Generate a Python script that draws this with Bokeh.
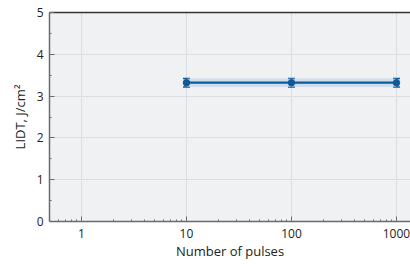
from bokeh.plotting import figure
from bokeh.models import ColumnDataSource, Whisker, Range1d, FixedTicker, LinearAxis
from bokeh.embed import file_html
from bokeh.resources import INLINE

pulses = [10, 100, 1000]
lidt = [3.32, 3.32, 3.32]
err = [0.1, 0.1, 0.1]
x_ticks = [1, 10, 100, 1000]
x_minor = [0.6, 0.7, 0.8, 0.9, 2, 3, 4, 5, 6, 7, 8, 9,
           20, 30, 40, 50, 60, 70, 80, 90, 200, 300, 400, 500, 600, 700, 800, 900]
y_ticks = [0, 1, 2, 3, 4, 5]
y_minor = [0.5, 1.5, 2.5, 3.5, 4.5]

src = ColumnDataSource(dict(
    x=pulses, y=lidt,
    lo=[v - e for v, e in zip(lidt, err)],
    hi=[v + e for v, e in zip(lidt, err)],
))

p = figure(width=410, height=264, x_axis_type="log", output_backend="svg",
           toolbar_location=None, x_range=Range1d(0.496, 1360), y_range=Range1d(0, 5),
           min_border_left=49, min_border_right=0, min_border_top=12, min_border_bottom=43)

p.background_fill_color = "#f0f1f3"
p.border_fill_color = "white"
p.outline_line_color = None

p.varea(x="x", y1="lo", y2="hi", source=src, fill_color="#b4cdea", fill_alpha=0.55)
p.line(x="x", y="y", source=src, line_color="#0e5a98", line_width=2.2)
w = Whisker(base="x", lower="lo", upper="hi", source=src, line_color="#0e5a98", line_width=1.5)
for h in (w.upper_head, w.lower_head):
    h.size = 7
    h.line_color = "#0e5a98"
    h.line_width = 1.5
p.add_layout(w)
p.scatter(x="x", y="y", source=src, size=6.5, fill_color="#0e5a98", line_color="#0e5a98")

p.xaxis.ticker = FixedTicker(ticks=x_ticks, minor_ticks=x_minor)
p.xaxis.major_label_overrides = {1: "1", 10: "10", 100: "100", 1000: "1000"}
p.yaxis.ticker = FixedTicker(ticks=y_ticks, minor_ticks=y_minor)
p.xgrid.ticker = FixedTicker(ticks=x_ticks)
p.ygrid.ticker = FixedTicker(ticks=y_ticks)

for ax in (p.xaxis[0], p.yaxis[0]):
    ax.axis_line_color = "#6b6b6b"
    ax.axis_line_width = 1.5
    ax.major_tick_line_color = "#6b6b6b"
    ax.minor_tick_line_color = "#6b6b6b"
    ax.major_tick_in = 5
    ax.major_tick_out = 0
    ax.minor_tick_in = 2
    ax.minor_tick_out = 0
    ax.major_label_text_font = "Open Sans"
    ax.major_label_text_font_size = "12px"
    ax.major_label_text_color = "#222222"
    ax.axis_label_text_font = "Open Sans"
    ax.axis_label_text_font_size = "13px"
    ax.axis_label_text_font_style = "normal"
    ax.axis_label_text_color = "#222222"

p.xaxis.axis_label = "Number of pulses"
p.yaxis.axis_label = "LIDT, J/cm²"
p.xaxis.major_label_standoff = 7
p.xaxis.axis_label_standoff = 1
p.yaxis.major_label_standoff = 6
p.yaxis.axis_label_standoff = 5

p.grid.grid_line_color = "#dcdde0"
p.grid.grid_line_width = 1

top = LinearAxis(ticker=FixedTicker(ticks=[]), major_label_text_font_size="0px",
                 major_tick_line_color=None, minor_tick_line_color=None,
                 axis_line_color="#333333", axis_line_width=1.5)
p.add_layout(top, "above")

open("out.html", "w").write(file_html(p, INLINE))
